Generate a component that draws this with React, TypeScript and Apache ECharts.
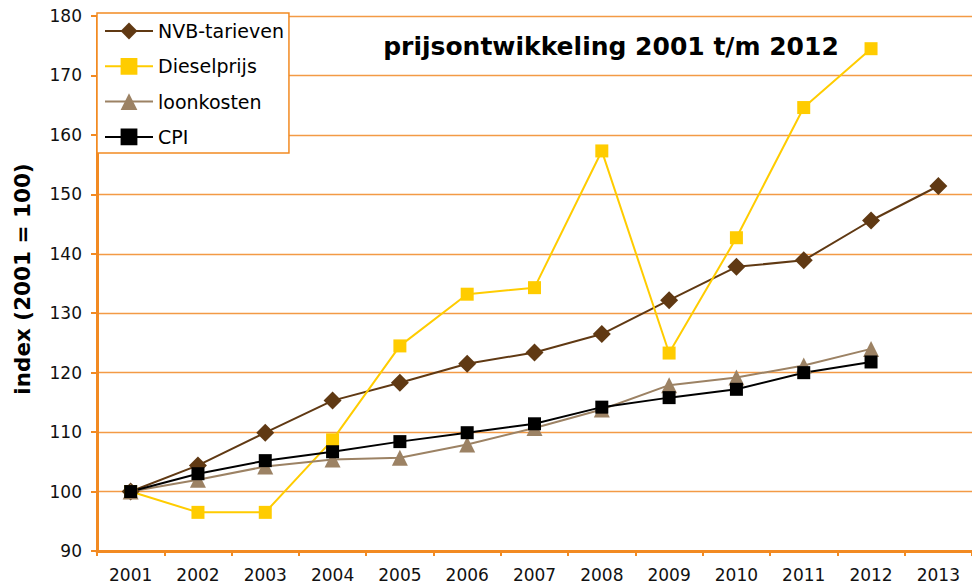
import React, { useEffect, useRef } from 'react';
import * as echarts from 'echarts';

const years = ['2001', '2002', '2003', '2004', '2005', '2006', '2007', '2008', '2009', '2010', '2011', '2012', '2013'];
const nvbTarieven = [100, 104.4, 109.9, 115.3, 118.3, 121.5, 123.4, 126.5, 132.2, 137.8, 138.9, 145.6, 151.4];
const dieselprijs = [100, 96.5, 96.5, 108.7, 124.5, 133.2, 134.3, 157.3, 123.3, 142.7, 164.6, 174.5, null];
const loonkosten = [100, 102.0, 104.2, 105.4, 105.7, 107.9, 110.7, 113.8, 117.9, 119.2, 121.2, 124.0, null];
const cpi = [100, 103.0, 105.2, 106.7, 108.4, 109.9, 111.4, 114.2, 115.8, 117.2, 120.0, 121.8, null];

const titleText = 'prijsontwikkeling 2001 t/m 2012';
const yAxisTitle = 'index (2001 = 100)';

const ORANGE = '#F28A22';
const GRID_ORANGE = '#F39A45';
const FONT = '"DejaVu Sans", Verdana, sans-serif';

export default function App() {
  const ref = useRef<HTMLDivElement>(null);
  useEffect(() => {
    if (!ref.current) return;
    const chart = echarts.init(ref.current, undefined, { renderer: 'svg' });
    const mk = (name: string, data: (number | null)[], color: string, symbol: string, size: number) => ({
      name,
      type: 'line',
      data,
      symbol,
      symbolSize: size,
      showAllSymbol: true,
      connectNulls: false,
      lineStyle: { color, width: 2 },
      itemStyle: { color, borderWidth: 0 },
      emphasis: { disabled: true },
    });
    chart.setOption({
      animation: false,
      backgroundColor: '#ffffff',
      textStyle: { fontFamily: FONT },
      grid: { left: 97, top: 16, width: 879, height: 535, containLabel: false },
      legend: {
        orient: 'vertical',
        left: 97,
        top: 13,
        padding: [8, 5, 6, 7],
        itemWidth: 48,
        itemHeight: 21,
        itemGap: 15.3,
        backgroundColor: '#ffffff',
        borderColor: ORANGE,
        borderWidth: 1.5,
        textStyle: { fontFamily: FONT, fontSize: 19, color: '#000', lineHeight: 20 },
        data: ['NVB-tarieven', 'Dieselprijs', 'loonkosten', 'CPI'],
      },
      xAxis: {
        type: 'category',
        data: years,
        boundaryGap: true,
        axisLine: { lineStyle: { color: ORANGE, width: 3 } },
        axisTick: { show: true, length: 5, lineStyle: { color: ORANGE, width: 2 } },
        axisLabel: { fontFamily: FONT, fontSize: 17, color: '#111', margin: 15 },
        splitLine: { show: false },
      },
      yAxis: {
        type: 'value',
        min: 90,
        max: 180,
        interval: 10,
        axisLine: { show: true, lineStyle: { color: ORANGE, width: 3 } },
        axisTick: { show: true, length: 6, lineStyle: { color: ORANGE, width: 2 } },
        axisLabel: { fontFamily: FONT, fontSize: 17, color: '#111', margin: 15 },
        splitLine: { show: true, lineStyle: { color: GRID_ORANGE, width: 1.3 } },
      },
      graphic: [
        {
          type: 'text',
          x: 611,
          y: 46,
          style: {
            text: titleText,
            font: `bold 25px ${FONT}`,
            fill: '#000',
            align: 'center',
            verticalAlign: 'middle',
          },
          z: 10,
        },
        {
          type: 'text',
          x: 22,
          y: 279,
          rotation: Math.PI / 2,
          style: {
            text: yAxisTitle,
            font: `bold 21.5px ${FONT}`,
            fill: '#000',
            align: 'center',
            verticalAlign: 'middle',
          },
        },
      ],
      series: [
        mk('NVB-tarieven', nvbTarieven, '#603913', 'diamond', 18),
        mk('Dieselprijs', dieselprijs, '#FFCC00', 'rect', 13),
        mk('loonkosten', loonkosten, '#9C8264', 'triangle', 16),
        mk('CPI', cpi, '#000000', 'rect', 13),
      ],
    });
    return () => chart.dispose();
  }, []);
  return <div ref={ref} style={{ position: 'absolute', left: 0, top: 0, width: 972, height: 585 }} />;
}
